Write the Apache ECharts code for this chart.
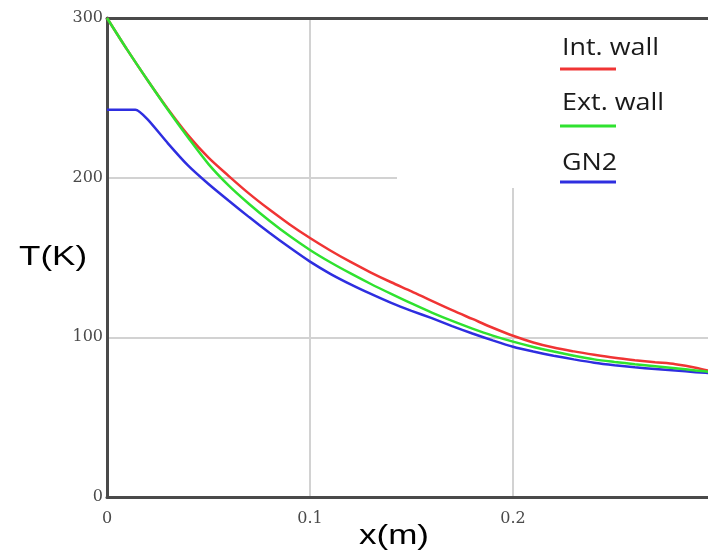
<!DOCTYPE html>
<html>
<head>
<meta charset="utf-8">
<script src="https://cdn.jsdelivr.net/npm/echarts@6/dist/echarts.min.js"></script>
<style>html,body{margin:0;padding:0;background:#fff}#c{width:708px;height:550px}</style>
</head>
<body>
<div id="c"></div>
<script>
// x positions (m)
var xPositions = [0, 0.01, 0.02, 0.03, 0.04, 0.05, 0.06, 0.07, 0.08, 0.09, 0.10, 0.11, 0.12, 0.13, 0.14, 0.15, 0.16, 0.17, 0.18, 0.19, 0.20, 0.21, 0.22, 0.23, 0.24, 0.25, 0.26, 0.27, 0.28, 0.29, 0.30];
// Int. wall temperature (K)
var intWall = [300, 280, 261, 243, 226.5, 212.5, 201, 190, 180, 170.7, 162.2, 154.4, 147.2, 140.6, 134.5, 128.8, 122.8, 117, 111.5, 106, 101, 96.8, 93.6, 91.2, 89.1, 87.2, 85.7, 84.4, 83.2, 81, 77.8];
// Ext. wall temperature (K)
var extWall = [300, 280, 261, 242.5, 225, 208.5, 195, 183.5, 173, 163.4, 154.7, 147, 140, 133.4, 127.2, 121.2, 115.5, 110.3, 105.5, 101.1, 97.3, 94, 91.1, 88.5, 86.2, 84.6, 83.2, 81.9, 80.6, 79.3, 78];
// GN2 temperature (K) with its own x positions
var gn2X = [0, 0.014, 0.02, 0.03, 0.04, 0.05, 0.06, 0.07, 0.08, 0.09, 0.10, 0.11, 0.12, 0.13, 0.14, 0.15, 0.16, 0.17, 0.18, 0.19, 0.20, 0.21, 0.22, 0.23, 0.24, 0.25, 0.26, 0.27, 0.28, 0.29, 0.30];
var gn2 = [242.5, 242.5, 236.5, 221.5, 207.5, 196, 185.5, 175.3, 165.5, 156.2, 147.4, 139.8, 133.2, 127.2, 121.6, 116.6, 112, 107, 102.4, 98.1, 94.1, 91.1, 88.5, 86.2, 84.1, 82.5, 81.2, 80.2, 79.2, 78.2, 77.3];
var xTicks = [0, 0.1, 0.2];
var yTicks = [0, 100, 200, 300];
var seriesNames = ['Int. wall', 'Ext. wall', 'GN2'];
var seriesColors = ['#f03434', '#2fe22f', '#2e2ee0'];

function pairs(xs, ys) { return xs.map(function (x, i) { return [x, ys[i]]; }); }

var chart = echarts.init(document.getElementById('c'), null, {renderer: 'canvas'});
var axisColor = '#4a4a4a';
var gridColor = '#d2d2d2';
var labelFont = {fontFamily: 'DejaVu Serif', fontSize: 16, color: '#4a4a4a'};

var legendItems = [];
var legendTextY = [48, 103, 163];
var legendLineY = [69, 126, 182];
seriesNames.forEach(function (n, i) {
  legendItems.push({
    type: 'text', x: 562, y: legendTextY[i], scaleX: 1.17, z: 3,
    style: {text: n, font: '23px "Open Sans"', fill: '#1a1a1a', textAlign: 'left', textVerticalAlign: 'middle'}
  });
  legendItems.push({
    type: 'line', z: 3,
    shape: {x1: 560, y1: legendLineY[i], x2: 616, y2: legendLineY[i]},
    style: {stroke: seriesColors[i], lineWidth: 3}
  });
});

var option = {
  animation: false,
  backgroundColor: '#ffffff',
  grid: {left: 107, top: 18, right: -8, bottom: 53, outerBoundsMode: 'none', containLabel: false},
  xAxis: [{
    type: 'value', min: 0, max: 0.3, interval: 0.1,
    axisLine: {show: true, onZero: false, lineStyle: {color: axisColor, width: 3}},
    axisTick: {show: false},
    splitLine: {show: true, lineStyle: {color: gridColor, width: 2}},
    axisLabel: Object.assign({margin: 14, showMaxLabel: false, formatter: function (v) {
      return xTicks.indexOf(Math.round(v * 10) / 10) >= 0 ? (v === 0 ? '0' : v.toFixed(1)) : '';
    }}, labelFont)
  }, {
    type: 'value', min: 0, max: 0.3, position: 'top',
    axisLine: {show: true, onZero: false, lineStyle: {color: axisColor, width: 3}},
    axisTick: {show: false}, axisLabel: {show: false}, splitLine: {show: false}
  }],
  yAxis: {
    type: 'value', min: 0, max: 300, interval: 100,
    axisLine: {show: true, onZero: false, lineStyle: {color: axisColor, width: 3}},
    axisTick: {show: false},
    splitLine: {show: true, lineStyle: {color: gridColor, width: 2}},
    axisLabel: Object.assign({margin: 4, formatter: function (v) { return yTicks.indexOf(v) >= 0 ? String(v) : ''; }}, labelFont)
  },
  series: [
    {name: seriesNames[0], type: 'line', data: pairs(xPositions, intWall), smooth: 0.3, symbol: 'none', z: 4,
     lineStyle: {color: seriesColors[0], width: 2.5}},
    {name: seriesNames[2], type: 'line', data: pairs(gn2X, gn2), smooth: 0.2, symbol: 'none', z: 4,
     lineStyle: {color: seriesColors[2], width: 2.5}},
    {name: seriesNames[1], type: 'line', data: pairs(xPositions, extWall), smooth: 0.3, symbol: 'none', z: 4,
     lineStyle: {color: seriesColors[1], width: 2.5}}
  ],
  graphic: [
    {type: 'rect', z: 1, shape: {x: 397, y: 20, width: 320, height: 168}, style: {fill: '#ffffff'}},
    {type: 'text', x: 19, y: 257, scaleX: 1.25, z: 3,
     style: {text: 'T(K)', font: '28px "Liberation Sans"', fill: '#000', textAlign: 'left', textVerticalAlign: 'middle'}},
    {type: 'text', x: 359, y: 536, scaleX: 1.25, z: 3,
     style: {text: 'x(m)', font: '28px "Liberation Sans"', fill: '#000', textAlign: 'left', textVerticalAlign: 'middle'}}
  ].concat(legendItems)
};
chart.setOption(option);
</script>
</body>
</html>
